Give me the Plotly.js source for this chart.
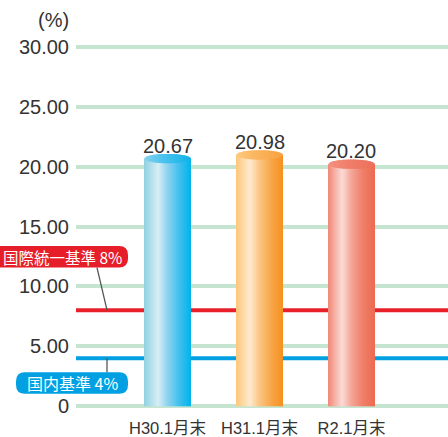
<!DOCTYPE html>
<html><head><meta charset="utf-8">
<script src="https://cdn.plot.ly/plotly-3.0.1.min.js"></script>
<style>html,body{margin:0;padding:0;background:#fff}#c{width:448px;height:437px}</style>
</head><body><div id="c"></div>
<script>
// ---- data ----
const categories = ["H30.1月末", "H31.1月末", "R2.1月末"];
const ratios = [20.67, 20.98, 20.20];
const standardValues = [8, 4];
const standardLabels = ["国際統一基準 8%", "国内基準 4%"];
const yTickVals = [0, 5, 10, 15, 20, 25, 30];
const yTickText = ["0", "5.00", "10.00", "15.00", "20.00", "25.00", "30.00"];
const unitLabel = "(%)";

// ---- styling ----
const W = 448, H = 437;
const L = 76, R = 0, T = 42.2, B = 26.2;
const pw = W - L - R, ph = H - T - B;
const px2x = p => (p - L) / pw;
const py2y = p => (H - B - p) / ph;
const xIdx = categories.map((_, i) => i);
const barW = 0.511;
const N = 28;
const capH = 0.39;

const bodyStops = [
  [[0, "#8fd1e0"], [0.3, "#d6eef5"], [0.5, "#8fd3ef"], [0.75, "#3fc0ee"], [1, "#00b3ec"]],
  [[0, "#fcc77a"], [0.3, "#feead0"], [0.5, "#fbc583"], [0.75, "#f8a648"], [1, "#f5901f"]],
  [[0, "#f08777"], [0.3, "#fbdbd6"], [0.5, "#f4a597"], [0.75, "#f07d68"], [1, "#ed6a50"]]
];
const capStops = [
  [[0, "#86d2ee"], [0.4, "#4cc3ee"], [1, "#0fb2e8"]],
  [[0, "#fdca80"], [0.4, "#fbb660"], [1, "#f8a140"]],
  [[0, "#f39282"], [0.4, "#f07f6c"], [1, "#ed705a"]]
];
function hex2rgb(h){return [1,3,5].map(i=>parseInt(h.substr(i,2),16));}
function interp(stops, t){
  for (let k = 0; k < stops.length - 1; k++){
    const [t0,c0] = stops[k], [t1,c1] = stops[k+1];
    if (t <= t1){
      const f = (t - t0) / (t1 - t0), a = hex2rgb(c0), b = hex2rgb(c1);
      return "rgb(" + a.map((v,j)=>Math.round(v + (b[j]-v)*f)).join(",") + ")";
    }
  }
  return stops[stops.length-1][1];
}

const traces = [];
const sw = barW / N;
for (let i = 0; i < N; i++){
  const t = (i + 0.5) / N;
  traces.push({
    type: "bar", x: xIdx, y: ratios,
    width: Math.min(sw * 1.8, barW - i*sw), offset: -barW/2 + i*sw,
    marker: {color: bodyStops.map(s => interp(s, t)), line: {width: 0}},
    hoverinfo: "skip", showlegend: false
  });
}

const shapes = [];
// standard lines
const stdColors = ["#e8202a", "#00a0e2"];
standardValues.forEach((v, k) => {
  shapes.push({type: "line", xref: "paper", yref: "y", x0: 0, x1: 1, y0: v, y1: v,
    line: {color: stdColors[k], width: 4}, layer: "below"});
});
// cylinder caps
ratios.forEach((v, b) => {
  for (let i = 0; i < N; i++){
    const u0 = -1 + 2*i/N, u1 = Math.min(1, -1 + 2*(i+1.6)/N);
    const h0 = capH*Math.sqrt(Math.max(0, 1-u0*u0)), h1 = capH*Math.sqrt(Math.max(0, 1-u1*u1));
    const x0 = b + u0*barW/2, x1 = b + u1*barW/2;
    const c = interp(capStops[b], (i+0.5)/N);
    shapes.push({type: "path", xref: "x", yref: "y",
      path: `M${x0},${v+h0} L${x1},${v+h1} L${x1},${v-h1} L${x0},${v-h0} Z`,
      fillcolor: c, line: {width: 0}});
  }
});
// label boxes
function roundRect(x0, y0, x1, y1, r){
  const P = (x, y) => px2x(x) + "," + py2y(y);
  return `M${P(x0+r,y0)} L${P(x1-r,y0)} Q${P(x1,y0)} ${P(x1,y0+r)} L${P(x1,y1-r)} Q${P(x1,y1)} ${P(x1-r,y1)} L${P(x0+r,y1)} Q${P(x0,y1)} ${P(x0,y1-r)} L${P(x0,y0+r)} Q${P(x0,y0)} ${P(x0+r,y0)} Z`;
}
shapes.push({type: "path", xref: "paper", yref: "paper", path: roundRect(-12, 246, 128, 267.5, 9),
  fillcolor: "#e61e2a", line: {width: 0}});
shapes.push({type: "path", xref: "paper", yref: "paper", path: roundRect(16, 372, 128, 393.5, 9),
  fillcolor: "#00a0e2", line: {width: 0}});
// connectors
shapes.push({type: "line", xref: "paper", yref: "paper", x0: px2x(97), y0: py2y(267.5), x1: px2x(107), y1: py2y(310),
  line: {color: "#555", width: 1.3}});
shapes.push({type: "line", xref: "paper", yref: "paper", x0: px2x(107), y0: py2y(358), x1: px2x(107), y1: py2y(372),
  line: {color: "#555", width: 1.3}});

const cjkFont = "Noto Sans CJK JP, sans-serif";
const annotations = ratios.map((v, i) => ({
  x: i, y: v, xref: "x", yref: "y", text: v.toFixed(2), showarrow: false,
  yanchor: "middle", yshift: 13, font: {family: "Liberation Sans, Arial, sans-serif", size: 20, color: "#333"}
}));
annotations.push({x: px2x(62), y: py2y(257), xref: "paper", yref: "paper", text: standardLabels[0], showarrow: false,
  xanchor: "center", yanchor: "middle", font: {family: cjkFont, size: 15.5, color: "#fff"}});
annotations.push({x: px2x(72), y: py2y(383), xref: "paper", yref: "paper", text: standardLabels[1], showarrow: false,
  xanchor: "center", yanchor: "middle", font: {family: cjkFont, size: 16, color: "#fff"}});
annotations.push({x: px2x(53), y: py2y(20), xref: "paper", yref: "paper", text: unitLabel, showarrow: false,
  xanchor: "center", yanchor: "middle", font: {family: "Liberation Sans, Arial, sans-serif", size: 20, color: "#333"}});

const layout = {
  width: W, height: H,
  margin: {l: L, r: R, t: T, b: B, pad: 0},
  paper_bgcolor: "#fff", plot_bgcolor: "#fff",
  barmode: "overlay", showlegend: false,
  xaxis: {range: [-0.9946, 3.049], tickvals: xIdx, ticktext: categories, showgrid: false, zeroline: false,
    showline: false, ticks: "", fixedrange: true, ticklabelstandoff: 5,
    tickfont: {family: "Liberation Sans, Noto Sans CJK JP, sans-serif", size: 16.5, color: "#333"}},
  yaxis: {range: [-0.4, 30.4], tickvals: yTickVals, ticktext: yTickText, showgrid: true,
    gridcolor: "#c6e5d0", gridwidth: 4, zeroline: false, showline: false, ticks: "", ticklabelstandoff: 6,
    tickfont: {family: "Liberation Sans, Arial, sans-serif", size: 20, color: "#333"}, fixedrange: true},
  shapes: shapes, annotations: annotations
};
Plotly.newPlot("c", traces, layout, {displayModeBar: false, staticPlot: true});
</script></body></html>
